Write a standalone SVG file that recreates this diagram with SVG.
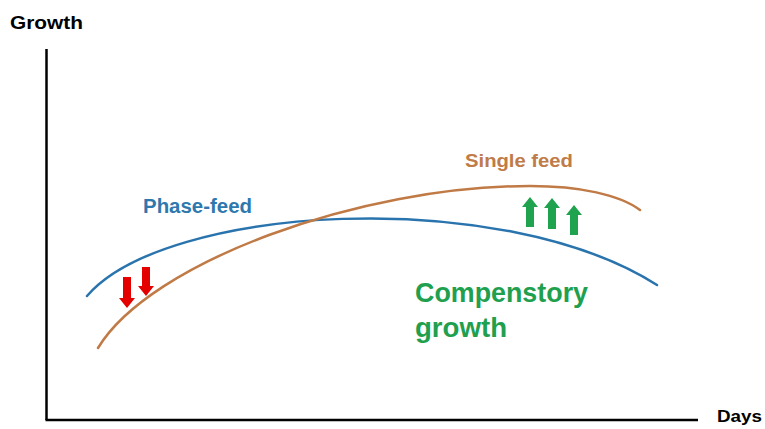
<svg xmlns="http://www.w3.org/2000/svg" width="765" height="429" viewBox="0 0 765 429">
<style>
.t{font-family:"Liberation Sans",Arial,sans-serif;font-weight:bold}
.axis{stroke:#000;stroke-width:2.5;fill:none}
.curve{fill:none;stroke-width:2.5;stroke-linecap:round}
.red{fill:#E50000}
.grn{fill:#1FA34F}
</style>
<rect width="765" height="429" fill="#fff"/>
<g id="axes">
<line class="axis" x1="46.5" y1="49" x2="46.5" y2="420"/>
<line class="axis" x1="45.5" y1="420" x2="698" y2="420"/>
<text class="t" x="10" y="29" font-size="19" textLength="73" lengthAdjust="spacingAndGlyphs" fill="#000">Growth</text>
<text class="t" x="717" y="422" font-size="17" textLength="45" lengthAdjust="spacingAndGlyphs" fill="#000">Days</text>
</g>
<g id="connectors">
<path id="phase-curve" class="curve" stroke="#2A74AE" d="M87,296 C165,205 500,185 657,285"/>
<path id="single-curve" class="curve" stroke="#C07A45" d="M98,348 C150,262 360,186 530,186 C580,186 620,195 640,210"/>
</g>
<g id="phase-feed">
<text class="t" x="143" y="213" font-size="20" textLength="109" lengthAdjust="spacingAndGlyphs" fill="#2F78AE">Phase-feed</text>
</g>
<g id="single-feed">
<text class="t" x="465" y="167" font-size="18" textLength="108" lengthAdjust="spacingAndGlyphs" fill="#BF7C48">Single feed</text>
</g>
<g id="compensatory">
<text class="t" x="415" y="302" font-size="28" textLength="173" lengthAdjust="spacingAndGlyphs" fill="#1FA04F">Compenstory</text>
<text class="t" x="415" y="337" font-size="28" textLength="92" lengthAdjust="spacingAndGlyphs" fill="#1FA04F">growth</text>
</g>
<g id="red-arrows">
<path class="red" d="M123,277 h8 v21 h4 l-8,10 l-8,-10 h4 z"/>
<path class="red" d="M142,267 h8 v19 h4 l-8,10 l-8,-10 h4 z"/>
</g>
<g id="green-arrows">
<path class="grn" d="M526,227 h8 v-20 h4 l-8,-10 l-8,10 h4 z"/>
<path class="grn" d="M548,229 h8 v-21 h4 l-8,-10 l-8,10 h4 z"/>
<path class="grn" d="M570,235 h8 v-20 h4 l-8,-10 l-8,10 h4 z"/>
</g>
</svg>
